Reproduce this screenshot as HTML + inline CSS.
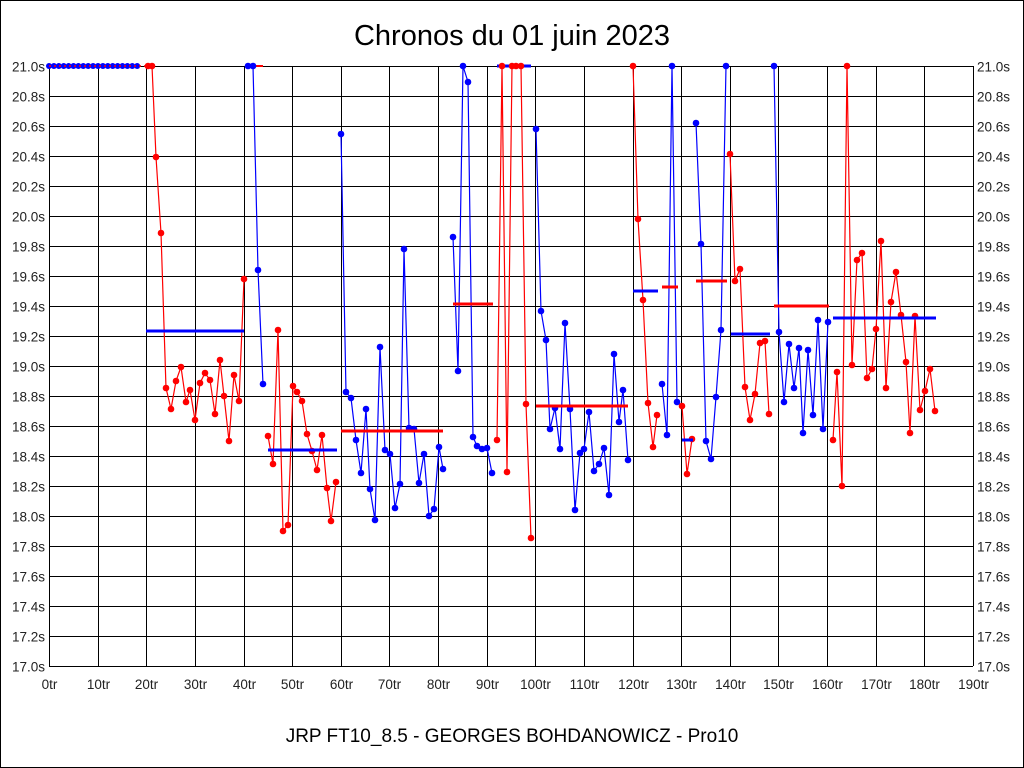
<!DOCTYPE html>
<html><head><meta charset="utf-8"><style>
body{margin:0;background:#fff}
svg{display:block;font-family:"Liberation Sans",sans-serif}
</style></head><body>
<svg id="s" width="1024" height="768" xmlns="http://www.w3.org/2000/svg">
<rect x="0.5" y="0.5" width="1023" height="767" fill="#fff" stroke="#000" stroke-width="1"/>
<text x="512" y="45" font-size="29" text-anchor="middle">Chronos du 01 juin 2023</text>
<text x="512" y="742" font-size="19" text-anchor="middle">JRP FT10_8.5 - GEORGES BOHDANOWICZ - Pro10</text>
<g id="grid" stroke="#000" stroke-width="1"></g>
<g id="lab" font-size="13.5" fill="#222"></g>
<g id="data"></g>
</svg>
<script>
const NS="http://www.w3.org/2000/svg";
function el(p,t,a,txt){const e=document.createElementNS(NS,t);for(const k in a)e.setAttribute(k,a[k]);if(txt!==undefined)e.textContent=txt;p.appendChild(e);return e;}
const g=document.getElementById('grid'),lab=document.getElementById('lab'),d=document.getElementById('data');
const X0=49,X1=973;
for(let i=0;i<=19;i++){const x=Math.round(X0+i*(X1-X0)/19)+.5;el(g,'line',{x1:x,y1:66,x2:x,y2:666});
 el(lab,'text',{x:x,y:689,'text-anchor':'middle'},(i*10)+'tr');}
el(g,'line',{x1:X1+.5,y1:66,x2:X1+.5,y2:666});
for(let j=0;j<=20;j++){const y=66+j*30+.5;el(g,'line',{x1:X0,y1:y,x2:X1,y2:y});
 const v=(21-j*0.2).toFixed(1)+'s';
 el(lab,'text',{x:45,y:y+5,'text-anchor':'end'},v);el(lab,'text',{x:977,y:y+5},v);}
const R='#f00',B='#00f';
function series(c,pts){el(d,'polyline',{points:pts.map(p=>p.join(',')).join(' '),fill:'none',stroke:c,'stroke-width':1.2});
 pts.forEach(p=>el(d,'circle',{cx:p[0],cy:p[1],r:3.3,fill:c}));}
function mean(c,x1,x2,y){el(d,'line',{x1:x1,x2:x2,y1:y,y2:y,stroke:c,'stroke-width':3});}
let p0=[];for(let x=49;x<=142;x+=4.9)p0.push([x,66]);
p0.forEach(p=>el(d,'circle',{cx:p[0],cy:p[1],r:3,fill:B}));
el(d,'line',{x1:49,x2:146,y1:66,y2:66,stroke:R,'stroke-width':1.5,'stroke-dasharray':'2,3'});
series(R,[[148,66],[152,66],[156,157],[161,233],[166,388],[171,409],[176,381],[181,367],[186,402],[190,390],[195,420],[200,383],[205,373],[210,380],[215,414],[220,360],[224,396],[229,441],[234,375],[239,401],[244,279]]);
mean(B,146,244,331);
el(d,'line',{x1:248,x2:263,y1:66,y2:66,stroke:R,'stroke-width':2});
series(B,[[248,66],[253,66],[258,270],[263,384]]);
series(R,[[268,436],[273,464],[278,330],[283,531],[288,525],[293,386],[297,392],[302,401],[307,434],[312,451],[317,470],[322,435],[327,488],[331,521],[336,482]]);
mean(B,268,337,450);
series(B,[[341,134],[346,392],[351,398],[356,440],[361,473],[366,409],[370,489],[375,520],[380,347],[385,450],[390,454],[395,508],[400,484],[404,249],[409,428],[414,429],[419,483],[424,454],[429,516],[434,509],[439,447],[443,469]]);
mean(R,341,443,431);
series(B,[[453,237],[458,371],[463,66],[468,82],[473,437],[477,446],[482,449],[487,448],[492,473]]);
mean(R,453,493,304);
el(d,'line',{x1:497,x2:531,y1:66,y2:66,stroke:B,'stroke-width':3});
series(R,[[497,440],[502,66],[507,472],[512,66],[516,66],[521,66],[526,404],[531,538]]);
series(B,[[536,129],[541,311],[546,340],[550,429],[555,408],[560,449],[565,323],[570,409],[575,510],[580,453],[584,449],[589,412],[594,471],[599,464],[604,448],[609,495],[614,354],[619,422],[623,390],[628,460]]);
mean(R,536,628,406);
series(R,[[633,66],[638,219],[643,300],[648,403],[653,447],[657,415]]);
mean(B,633,658,291);
series(B,[[662,384],[667,435],[672,66],[677,402]]);
mean(R,662,678,287);
series(R,[[682,406],[687,474],[692,439]]);
mean(B,682,693,440);
series(B,[[696,123],[701,244],[706,441],[711,459],[716,397],[721,330],[726,66]]);
mean(R,696,727,281);
series(R,[[730,154],[735,281],[740,269],[745,387],[750,420],[755,394],[760,343],[765,341],[769,414]]);
mean(B,731,770,334);
series(B,[[774,66],[779,332],[784,402],[789,344],[794,388],[799,348],[803,433],[808,350],[813,415],[818,320],[823,429],[828,322]]);
mean(R,774,829,306);
series(R,[[833,440],[837,372],[842,486],[847,66],[852,365],[857,260],[862,253],[867,378],[872,369],[876,329],[881,241],[886,388],[891,302],[896,272],[901,315],[906,362],[910,433],[915,316],[920,410],[925,391],[930,369],[935,411]]);
mean(B,833,936,318);
</script>
</body></html>
